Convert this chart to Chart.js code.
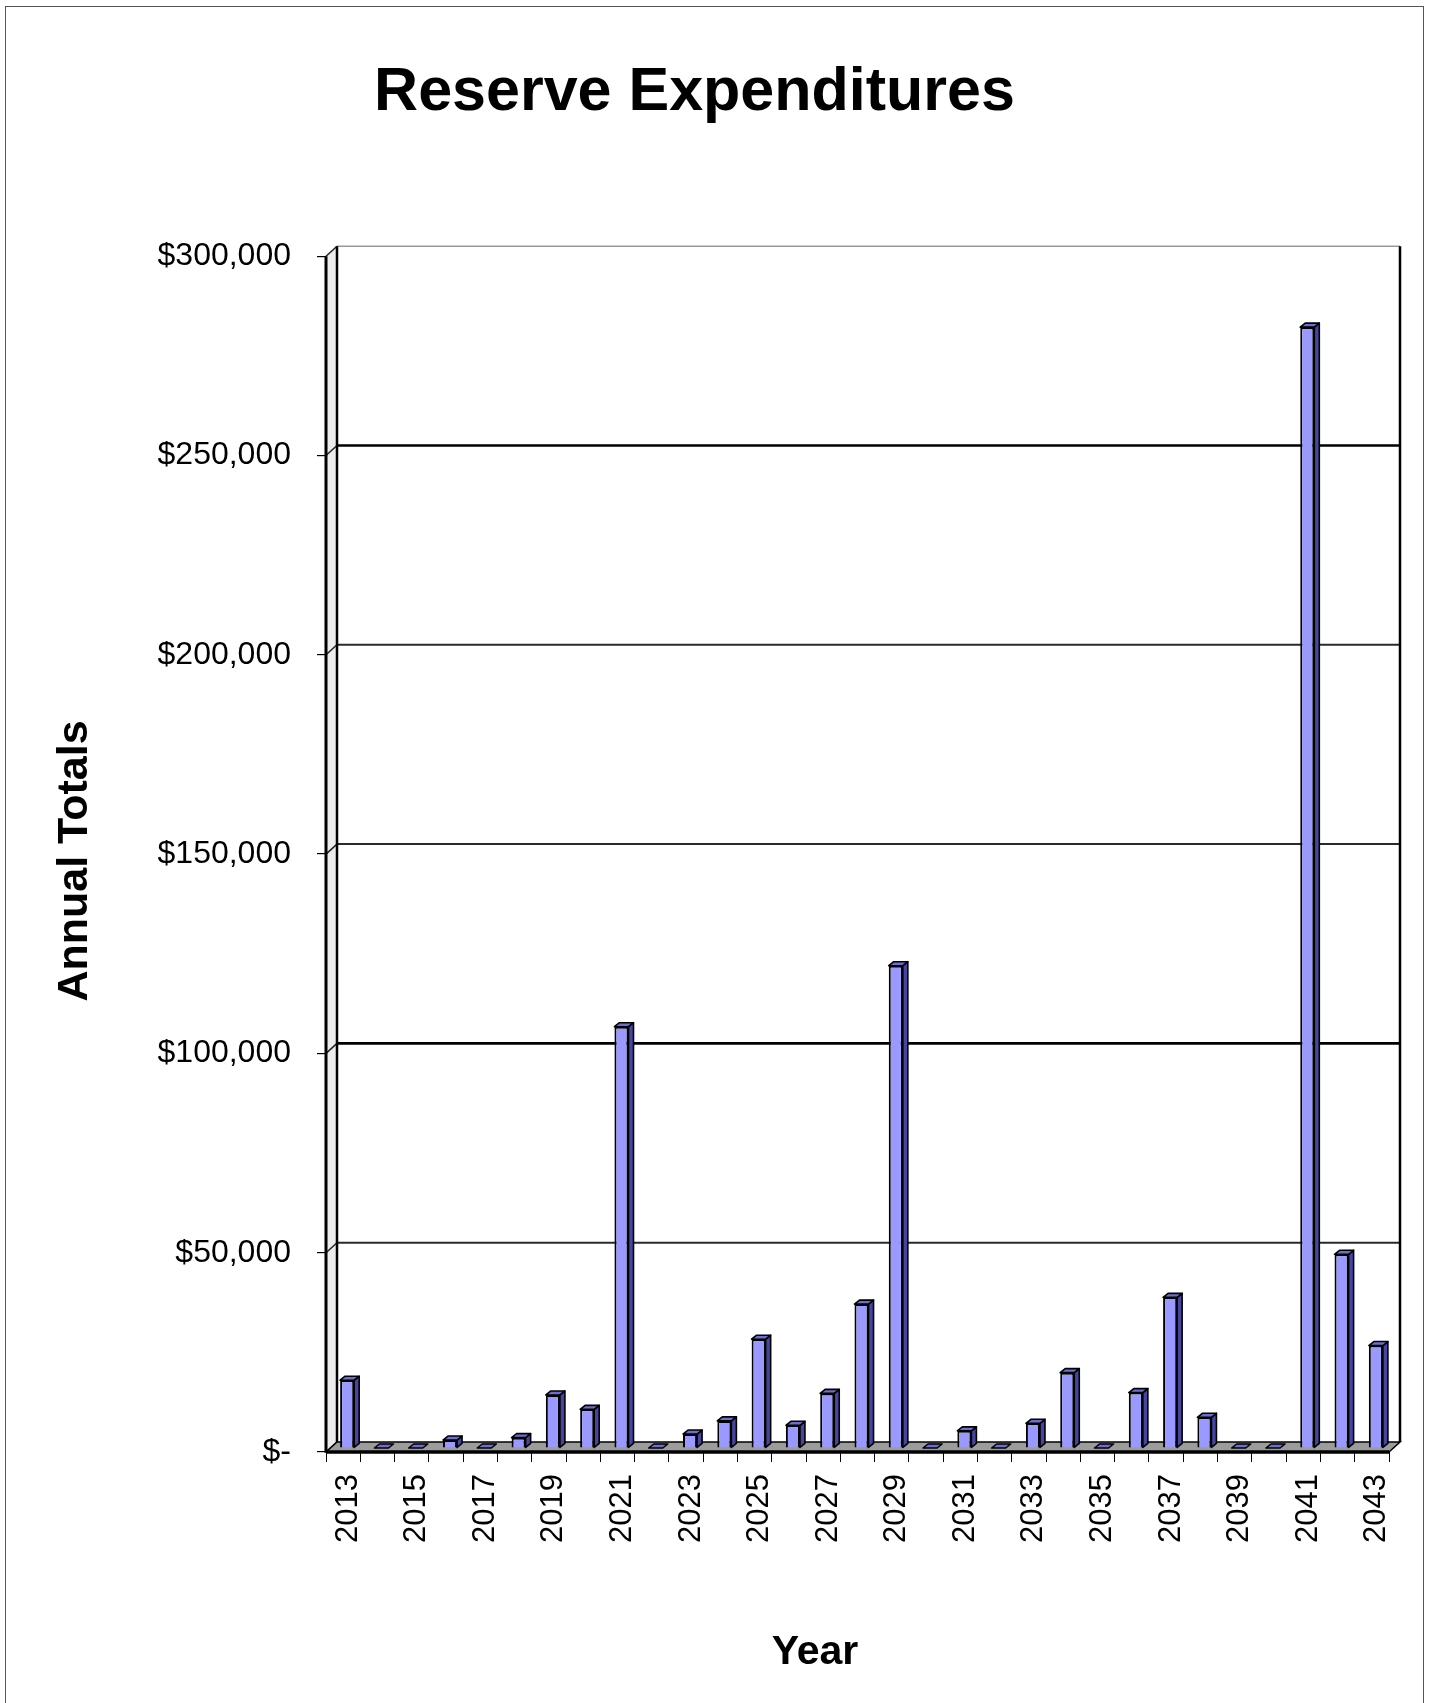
<!DOCTYPE html>
<html>
<head>
<meta charset="utf-8">
<title>Reserve Expenditures</title>
<script src="https://cdn.jsdelivr.net/npm/chart.js@4.4.1/dist/chart.umd.min.js"></script>
<style>
    body { margin: 0; background: #fff; }
    canvas { display: block; }
</style>
</head>
<body>
<canvas id="reserveChart" width="1432" height="1703"></canvas>
<script>
// data (dollars per year)
const years = ["2013", "2014", "2015", "2016", "2017", "2018", "2019", "2020", "2021", "2022",
               "2023", "2024", "2025", "2026", "2027", "2028", "2029", "2030", "2031", "2032",
               "2033", "2034", "2035", "2036", "2037", "2038", "2039", "2040", "2041", "2042", "2043"];
const annualTotals = [17000, 0, 0, 2000, 0, 2600, 13300, 9700, 105700, 0,
                      3500, 6800, 27300, 5700, 13700, 36100, 121000, 0, 4300, 0,
                      6200, 18900, 0, 13900, 37800, 7700, 0, 0, 281200, 48600, 25700];
const yTickValues = [0, 50000, 100000, 150000, 200000, 250000, 300000];

const FONT = "'Liberation Sans', Arial, sans-serif";
const WALL_DX = 11, WALL_DY = -10;   // depth of the back wall
const BAR_DX = 5, BAR_DY = -4;       // depth of each bar

function money(v) {
    if (v === 0) return "$-";
    return "$" + v.toLocaleString("en-US");
}

// white page with thin frame
const framePlugin = {
    id: "frame",
    beforeDraw(chart) {
        const ctx = chart.ctx;
        ctx.save();
        ctx.fillStyle = "#fff";
        ctx.fillRect(0, 0, chart.width, chart.height);
        ctx.strokeStyle = "#555";
        ctx.lineWidth = 1;
        ctx.strokeRect(5.5, 6.5, 1418, 1720);
        ctx.restore();
    }
};

// back wall, left wall and floor of the 3D plot
const wallPlugin = {
    id: "walls",
    beforeDatasetsDraw(chart) {
        const ctx = chart.ctx;
        const a = chart.chartArea;
        const y = chart.scales.y;
        const L = a.left, R = a.right, T = a.top, B = a.bottom;
        ctx.save();

        // left wall
        ctx.fillStyle = "#ececec";
        ctx.beginPath();
        ctx.moveTo(L, T); ctx.lineTo(L + WALL_DX, T + WALL_DY);
        ctx.lineTo(L + WALL_DX, B + WALL_DY); ctx.lineTo(L, B);
        ctx.closePath(); ctx.fill();

        // gridlines on the back wall
        yTickValues.forEach(v => {
            const py = y.getPixelForValue(v);
            if (v > 0) {
                if (v === 300000) {
                    ctx.strokeStyle = "#999"; ctx.lineWidth = 1.5;
                } else if (v === 100000 || v === 250000) {
                    ctx.strokeStyle = "#000"; ctx.lineWidth = 2.6;
                } else {
                    ctx.strokeStyle = "#2a2a2a"; ctx.lineWidth = 2;
                }
                ctx.beginPath();
                ctx.moveTo(L + WALL_DX, py + WALL_DY);
                ctx.lineTo(R + WALL_DX, py + WALL_DY);
                ctx.stroke();
            }
            ctx.strokeStyle = "#222";
            ctx.lineWidth = 1.5;
            ctx.beginPath();
            ctx.moveTo(L, py);
            ctx.lineTo(L + WALL_DX, py + WALL_DY);
            ctx.stroke();
        });

        // wall edges
        ctx.strokeStyle = "#000";
        ctx.lineWidth = 2.5;
        ctx.beginPath();
        ctx.moveTo(L + WALL_DX, T + WALL_DY); ctx.lineTo(L + WALL_DX, B + WALL_DY);
        ctx.moveTo(R + WALL_DX, T + WALL_DY); ctx.lineTo(R + WALL_DX, B + WALL_DY);
        ctx.stroke();
        ctx.lineWidth = 3;
        ctx.beginPath();
        ctx.moveTo(L, T); ctx.lineTo(L, B);
        ctx.stroke();

        // floor
        ctx.fillStyle = "#9c9c9c";
        ctx.strokeStyle = "#000";
        ctx.lineWidth = 1.5;
        ctx.beginPath();
        ctx.moveTo(L, B); ctx.lineTo(R, B);
        ctx.lineTo(R + WALL_DX, B + WALL_DY); ctx.lineTo(L + WALL_DX, B + WALL_DY);
        ctx.closePath(); ctx.fill(); ctx.stroke();
        ctx.lineWidth = 3.5;
        ctx.beginPath();
        ctx.moveTo(L, B); ctx.lineTo(R, B);
        ctx.stroke();
        ctx.restore();
    }
};

// bars stand in the middle of the floor depth, then get a side and a top face
const bar3dPlugin = {
    id: "bar3d",
    afterDatasetsUpdate(chart) {
        chart.getDatasetMeta(0).data.forEach(el => {
            el.x += 4;
            el.y -= 4;
            el.base -= 4;
        });
    },
    afterDatasetsDraw(chart) {
        const ctx = chart.ctx;
        ctx.save();
        ctx.strokeStyle = "#000";
        ctx.lineWidth = 1.6;
        ctx.lineJoin = "round";
        chart.getDatasetMeta(0).data.forEach(el => {
            const left = el.x - el.width / 2;
            const right = el.x + el.width / 2;
            const top = Math.min(el.y, el.base);
            const base = el.base;
            // side face
            if (base - top > 0.5) {
                ctx.fillStyle = "#4646a0";
                ctx.beginPath();
                ctx.moveTo(right, top); ctx.lineTo(right + BAR_DX, top + BAR_DY);
                ctx.lineTo(right + BAR_DX, base + BAR_DY); ctx.lineTo(right, base);
                ctx.closePath(); ctx.fill(); ctx.stroke();
            }
            // top face
            ctx.fillStyle = "#6e6ed2";
            ctx.beginPath();
            ctx.moveTo(left, top); ctx.lineTo(left + BAR_DX, top + BAR_DY);
            ctx.lineTo(right + BAR_DX, top + BAR_DY); ctx.lineTo(right, top);
            ctx.closePath(); ctx.fill(); ctx.stroke();
        });
        ctx.restore();
    }
};

// axis titles placed where the original has them
const axisTitlePlugin = {
    id: "axisTitles",
    afterDraw(chart) {
        const ctx = chart.ctx;
        ctx.save();
        ctx.fillStyle = "#000";
        ctx.textAlign = "center";
        ctx.textBaseline = "middle";
        ctx.font = "bold 41px " + FONT;
        ctx.fillText("Year", 815, 1653);
        ctx.translate(75, 861);
        ctx.rotate(-Math.PI / 2);
        ctx.font = "bold 43px " + FONT;
        ctx.fillText("Annual Totals", 0, 0);
        ctx.restore();
    }
};

const ctx = document.getElementById("reserveChart").getContext("2d");
new Chart(ctx, {
    type: "bar",
    data: {
        labels: years,
        datasets: [{
            label: "Annual Totals",
            data: annualTotals,
            backgroundColor: "#9999ff",
            borderColor: "#000",
            borderWidth: 2,
            barPercentage: 0.41,
            categoryPercentage: 1
        }]
    },
    options: {
        responsive: false,
        animation: false,
        devicePixelRatio: 1,
        layout: { padding: { left: 0, right: 43, top: 0, bottom: 0 } },
        plugins: {
            legend: { display: false },
            tooltip: { enabled: false },
            title: {
                display: true,
                text: "Reserve Expenditures",
                color: "#000",
                font: { family: FONT, size: 61, weight: "bold", lineHeight: 1.2 },
                padding: { top: 57, bottom: 126 }
            }
        },
        scales: {
            x: {
                offset: true,
                grid: { display: true, drawOnChartArea: false, drawTicks: true, tickLength: 10, color: "#000", lineWidth: 1, offset: true },
                border: { display: false },
                ticks: {
                    autoSkip: false,
                    minRotation: 90,
                    maxRotation: 90,
                    padding: 12,
                    labelOffset: 5,
                    color: "#000",
                    font: { family: FONT, size: 31 },
                    callback: function (value, index) {
                        return index % 2 === 0 ? this.getLabelForValue(value) : "";
                    }
                },
                afterFit(scale) { scale.height = 251; }
            },
            y: {
                min: 0,
                max: 300000,
                grid: { display: true, drawOnChartArea: false, drawTicks: true, tickLength: 9, color: "#000", lineWidth: 1.2 },
                border: { display: false },
                ticks: {
                    stepSize: 50000,
                    padding: 26,
                    color: "#000",
                    font: { family: FONT, size: 32 },
                    callback: value => money(value)
                },
                afterFit(scale) { scale.width = 326; }
            }
        }
    },
    plugins: [framePlugin, wallPlugin, bar3dPlugin, axisTitlePlugin]
});
</script>
</body>
</html>
